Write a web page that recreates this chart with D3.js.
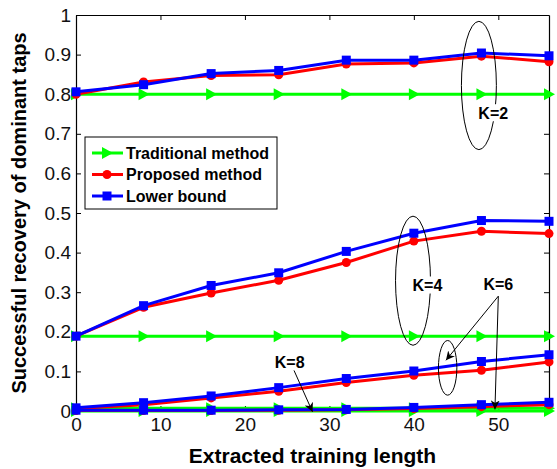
<!DOCTYPE html>
<html>
<head>
<meta charset="utf-8">
<script src="https://cdn.jsdelivr.net/npm/d3@7"></script>
<style>
  body { margin: 0; background: #fff; }
  svg { display: block; font-family: "Liberation Sans", Arial, sans-serif; }
</style>
</head>
<body>
<script>
var width = 557,
    height = 469;

var margin = {top: 15, right: 8, bottom: 58, left: 76};

// training lengths on the x axis
var lengths = [0, 8, 16, 24, 32, 40, 48, 56];
var xTicks = [0, 10, 20, 30, 40, 50];
var yTicks = [0, 0.1, 0.2, 0.3, 0.4, 0.5, 0.6, 0.7, 0.8, 0.9, 1];

// K=2
var tradK2  = [0.800, 0.800, 0.800, 0.800, 0.800, 0.800, 0.800, 0.800];
var propK2  = [0.800, 0.831, 0.847, 0.849, 0.876, 0.879, 0.896, 0.882];
var lowerK2 = [0.806, 0.824, 0.852, 0.860, 0.886, 0.886, 0.904, 0.897];
// K=4
var tradK4  = [0.189, 0.189, 0.189, 0.189, 0.189, 0.189, 0.189, 0.189];
var propK4  = [0.189, 0.262, 0.298, 0.330, 0.375, 0.429, 0.454, 0.448];
var lowerK4 = [0.189, 0.266, 0.317, 0.349, 0.403, 0.449, 0.481, 0.479];
// K=6
var tradK6  = [0.007, 0.007, 0.007, 0.007, 0.007, 0.007, 0.007, 0.007];
var propK6  = [0.006, 0.016, 0.033, 0.050, 0.072, 0.090, 0.103, 0.124];
var lowerK6 = [0.008, 0.021, 0.038, 0.059, 0.082, 0.101, 0.125, 0.142];
// K=8
var tradK8  = [0.000, 0.000, 0.000, 0.000, 0.000, 0.000, 0.000, 0.000];
var propK8  = [0.001, 0.001, 0.001, 0.002, 0.003, 0.006, 0.011, 0.016];
var lowerK8 = [0.002, 0.002, 0.002, 0.003, 0.004, 0.009, 0.016, 0.022];

var legendNames = ["Traditional method", "Proposed method", "Lower bound"];
var colors = ["#00ff00", "#ff0000", "#0000ff"];
var markers = ["triangle", "circle", "square"];

var groups = [
    [tradK2, propK2, lowerK2],
    [tradK4, propK4, lowerK4],
    [tradK6, propK6, lowerK6],
    [tradK8, propK8, lowerK8]
];

// annotations in data units: ellipses, labels, arrows
var ellipses = [
    {cx: 47.7, cy: 0.822, rx: 2.07, ry: 0.162},
    {cx: 39.9, cy: 0.329, rx: 2.07, ry: 0.163},
    {cx: 44.0, cy: 0.109, rx: 1.09, ry: 0.069}
];
var labels = [
    {text: "K=2", x: 49.4, y: 0.752},
    {text: "K=4", x: 41.6, y: 0.317},
    {text: "K=6", x: 50.0, y: 0.320},
    {text: "K=8", x: 25.3, y: 0.123}
];
var arrows = [
    {x1: 50.0, y1: 0.290, x2: 43.8, y2: 0.128},
    {x1: 50.0, y1: 0.290, x2: 49.6, y2: 0.004},
    {x1: 25.8, y1: 0.103, x2: 28.0, y2: -0.002}
];

var svg = d3.select("body")
    .append("svg")
    .attr("width", width)
    .attr("height", height);

var x = d3.scaleLinear()
    .domain([0, 56])
    .range([margin.left, width - margin.right]);

var y = d3.scaleLinear()
    .domain([0, 1])
    .range([height - margin.bottom, margin.top]);

// axes, ticks pointing inward on all four sides
svg.append("g")
    .attr("transform", "translate(0," + y(0) + ")")
    .call(d3.axisBottom(x).tickValues(xTicks).tickSizeInner(-5).tickSizeOuter(0).tickPadding(7))
    .call(styleAxis);

svg.append("g")
    .attr("transform", "translate(0," + y(1) + ")")
    .call(d3.axisTop(x).tickValues(xTicks).tickSizeInner(-5).tickSizeOuter(0).tickFormat(""))
    .call(styleAxis);

svg.append("g")
    .attr("transform", "translate(" + x(0) + ",0)")
    .call(d3.axisLeft(y).tickValues(yTicks).tickSizeInner(-5).tickSizeOuter(0).tickPadding(5)
        .tickFormat(function (d) { return d === 0 || d === 1 ? d3.format("d")(d) : d3.format(".1f")(d); }))
    .call(styleAxis);

svg.append("g")
    .attr("transform", "translate(" + x(56) + ",0)")
    .call(d3.axisRight(y).tickValues(yTicks).tickSizeInner(-5).tickSizeOuter(0).tickFormat(""))
    .call(styleAxis);

function styleAxis(g) {
    g.select(".domain").attr("stroke", "#000").attr("stroke-width", 1.2);
    g.selectAll(".tick line").attr("stroke", "#000");
    g.selectAll(".tick text")
        .attr("fill", "#111")
        .style("font-size", "19px")
        .style("font-family", "'Liberation Sans', Arial, sans-serif");
}

// axis titles
svg.append("text")
    .attr("x", (x(0) + x(56)) / 2)
    .attr("y", 463)
    .attr("text-anchor", "middle")
    .style("font-size", "21px")
    .style("font-weight", "bold")
    .text("Extracted training length");

svg.append("text")
    .attr("transform", "translate(26," + ((y(0) + y(1)) / 2) + ") rotate(-90)")
    .attr("text-anchor", "middle")
    .style("font-size", "20px")
    .style("font-weight", "bold")
    .text("Successful recovery of dominant taps");

var line = d3.line()
    .x(function (d, i) { return x(lengths[i]); })
    .y(function (d) { return y(d); });

function drawMarker(g, type, color, px, py) {
    if (type === "triangle") {
        g.append("path")
            .attr("d", "M" + (px - 5) + "," + (py - 6) + "L" + (px + 6) + "," + py + "L" + (px - 5) + "," + (py + 6) + "Z")
            .attr("fill", color);
    } else if (type === "circle") {
        g.append("circle")
            .attr("cx", px).attr("cy", py).attr("r", 4.5)
            .attr("fill", color);
    } else {
        g.append("rect")
            .attr("x", px - 4.5).attr("y", py - 4.5)
            .attr("width", 9).attr("height", 9)
            .attr("fill", color);
    }
}

var plot = svg.append("g");

groups.forEach(function (group) {
    group.forEach(function (series, s) {
        plot.append("path")
            .datum(series)
            .attr("d", line)
            .attr("fill", "none")
            .attr("stroke", colors[s])
            .attr("stroke-width", 3);
        series.forEach(function (v, i) {
            drawMarker(plot, markers[s], colors[s], x(lengths[i]), y(v));
        });
    });
});

// annotations
var notes = svg.append("g");

notes.selectAll("ellipse")
    .data(ellipses)
    .enter().append("ellipse")
    .attr("cx", function (d) { return x(d.cx); })
    .attr("cy", function (d) { return y(d.cy); })
    .attr("rx", function (d) { return x(d.rx) - x(0); })
    .attr("ry", function (d) { return y(0) - y(d.ry); })
    .attr("fill", "none")
    .attr("stroke", "#000")
    .attr("stroke-width", 1);

svg.append("defs").append("marker")
    .attr("id", "head")
    .attr("viewBox", "0 0 10 10")
    .attr("refX", 10).attr("refY", 5)
    .attr("markerWidth", 9).attr("markerHeight", 9)
    .attr("markerUnits", "userSpaceOnUse")
    .attr("orient", "auto")
    .append("path")
    .attr("d", "M0,0L10,5L0,10L3,5Z")
    .attr("fill", "#000");

notes.selectAll("line.arrow")
    .data(arrows)
    .enter().append("line")
    .attr("class", "arrow")
    .attr("x1", function (d) { return x(d.x1); })
    .attr("y1", function (d) { return y(d.y1); })
    .attr("x2", function (d) { return x(d.x2); })
    .attr("y2", function (d) { return y(d.y2); })
    .attr("stroke", "#000")
    .attr("stroke-width", 1)
    .attr("marker-end", "url(#head)");

var lab = notes.selectAll("g.lab")
    .data(labels)
    .enter().append("g")
    .attr("class", "lab")
    .attr("transform", function (d) { return "translate(" + x(d.x) + "," + y(d.y) + ")"; });

lab.append("rect")
    .attr("x", -16).attr("y", -9)
    .attr("width", 32).attr("height", 17)
    .attr("fill", "#fff");

lab.append("text")
    .attr("text-anchor", "middle")
    .attr("dy", "0.35em")
    .style("font-size", "16px")
    .style("font-weight", "bold")
    .text(function (d) { return d.text; });

// legend
var legend = svg.append("g")
    .attr("transform", "translate(85,137)");

legend.append("rect")
    .attr("width", 192)
    .attr("height", 72)
    .attr("fill", "#fff")
    .attr("stroke", "#000")
    .attr("stroke-width", 1);

legendNames.forEach(function (name, i) {
    var ly = 16 + i * 21.5;
    legend.append("line")
        .attr("x1", 7).attr("x2", 38)
        .attr("y1", ly).attr("y2", ly)
        .attr("stroke", colors[i])
        .attr("stroke-width", 3);
    drawMarker(legend, markers[i], colors[i], 22, ly);
    legend.append("text")
        .attr("x", 41)
        .attr("y", ly)
        .attr("dy", "0.35em")
        .style("font-size", "16px")
        .style("font-weight", "bold")
        .text(name);
});
</script>
</body>
</html>
